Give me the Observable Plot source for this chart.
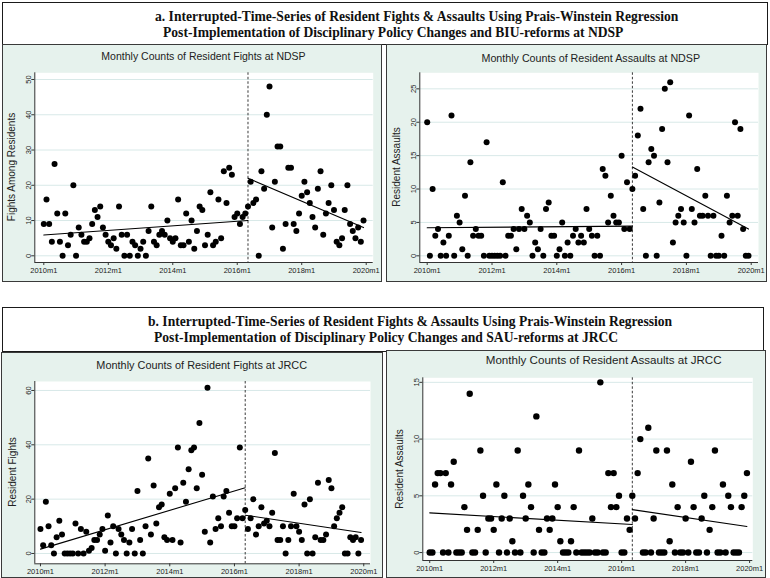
<!DOCTYPE html>
<html><head><meta charset="utf-8">
<script src="https://cdn.jsdelivr.net/npm/d3@7"></script>
<script src="https://cdn.jsdelivr.net/npm/@observablehq/plot@0.6"></script>
<style>
body{margin:0;background:#fff;width:770px;height:578px;position:relative;overflow:hidden;font-family:"Liberation Sans",Arial,sans-serif}
.box{position:absolute;border:1px solid #1a1a1a;background:#fff;box-sizing:border-box}
.tl{position:absolute;font-family:"Liberation Serif","Times New Roman",serif;font-weight:bold;font-size:13.6px;white-space:nowrap;line-height:1;color:#111;transform:translateY(-50%)}
.panel{position:absolute;background:#e6f2ed;border:1px solid #3a3a3a;box-sizing:border-box}
.pt{position:absolute;white-space:nowrap;transform:translate(-50%,-50%);color:#222;line-height:1}
.yt{position:absolute;white-space:nowrap;transform:translate(-50%,-50%) rotate(-90deg);color:#222;line-height:1;font-size:10px}
.plot{position:absolute}
.plot svg{overflow:visible}
</style></head><body>
<script>
// ---------- data ----------
const monthIndex = d3.range(120);               // 2010m1 ... 2019m12
const xTickMonths = [0, 24, 48, 72, 96, 120];
const xTickLabels = ["2010m1", "2012m1", "2014m1", "2016m1", "2018m1", "2020m1"];
const interventionMonth = 76;                   // 2016m5
const preFitMonths = [0, 76];
const postFitMonths = [76, 119];

const ndspFights = [9,16,9,4,26,12,4,0,12,3, 6,20,0,8,6,4,4,5,9,13, 11,14,8,6,4,3,5,2,14,6,
  0,6,0,4,3,0,2,4,0,7, 14,4,3,6,7,6,10,5,4,5, 16,3,3,12,4,10,2,7,14,13, 3,6,18,3,4,16,5,24,15,25,
  23,11,12,9,11,12,14,21,15,16, 0,24,19,40,48,8,21,31,31,2, 9,25,25,9,7,12,17,21,18,15,
  11,8,19,24,6,12,15,20,13,4, 3,5,13,20,9,7,5,8,4,10];
const ndspFightsPreFit = [5.9, 10.0];
const ndspFightsPostFit = [22.0, 8.0];

const ndspAssaults = [20,0,10,3,4,0,2,0,3,21, 0,6,5,1,9,0,14,3,4,3, 3,0,17,0,0,0,0,0,11,0,
  3,3,4,1,4,7,4,6,5,0, 2,1,4,0,7,8,3,3,0,1, 5,0,2,0,3,4,2,3,2,7, 4,3,0,3,0,13,12,5,9,6,
  5,5,15,4,11,4,10,12,18,22, 7,0,14,16,15,0,8,19,25,14, 26,2,5,6,7,5,0,21,7,5,
  13,6,6,9,6,0,6,0,0,3, 0,9,5,6,20,6,19,4,0,0];
const ndspAssaultsPreFit = [4.2, 4.45];
const ndspAssaultsPostFit = [13.3, 4.0];

const jrccFights = [9,3,19,10,3,0,6,12,7,0, 0,0,0,11,0,9,0,8,1,2, 5,5,7,9,1,14,4,10,0,9,
  7,5,0,4,9,0,23,5,0,10, 35,7,25,11,17,18,6,5,22,5, 24,39,4,26,19,31,38,39,24,48, 29,8,61,4,21,9,13,10,21,23,
  15,10,10,13,39,13,16,9,13,20, 7,10,17,11,12,10,15,37,5,5, 10,0,5,10,22,10,8,5,18,0,
  20,0,6,26,5,5,7,27,24,10, 13,15,17,0,0,6,5,6,0,5];
const jrccFightsPreFit = [1.6, 24.2];
const jrccFightsPostFit = [14.1, 7.7];

const jrccAssaults = [0,0,6,7,7,0,7,0,6,8, 0,0,0,4,2,14,0,0,2,9, 5,0,3,3,2,6,0,3,5,0,
  3,1,0,9,0,5,3,6,4,0, 12,2,0,0,3,2,3,6,4,1, 0,0,0,1,4,0,9,0,0,0, 0,3,0,0,15,0,0,7,4,7,
  4,5,0,0,3,2,5,3,7,10, 0,0,11,0,3,9,0,0,0,9, 1,6,0,4,0,0,3,0,8,4,
  0,0,3,5,0,2,4,9,0,0, 6,0,5,4,0,0,0,4,5,7];
const jrccAssaultsPreFit = [3.5, 2.47];
const jrccAssaultsPostFit = [3.78, 2.3];

const yTicksNdspFights = [0, 10, 20, 30, 40, 50];
const yTicksNdspAssaults = [0, 5, 10, 15, 20, 25];
const yTicksJrccFights = [0, 20, 40, 60];
const yTicksJrccAssaults = [0, 5, 10, 15];

const titleA = ["a. Interrupted-Time-Series of Resident Fights & Assaults Using Prais-Winstein Regression",
  "Post-Implementation of Disciplinary Policy Changes and BIU-reforms at NDSP"];
const titleB = ["b. Interrupted-Time-Series of Resident Fights & Assaults Using Prais-Winstein Regression",
  "Post-Implementation of Disciplinary Policy Changes and SAU-reforms at JRCC"];

// ---------- layout ----------
const panels = [
  {title: "Monthly Counts of Resident Fights at NDSP", ytitle: "Fights Among Residents",
   values: ndspFights, pre: ndspFightsPreFit, post: ndspFightsPostFit, yTicks: yTicksNdspFights,
   box: [2, 44, 380, 238], m: [28.3, 9.3, 20, 32.3], xd: [-3.35, 122.6], yd: [-1.9, 51.9],
   tpos: [203.5, 55.5, 10.5], ypos: [11.7, 167], r: 3},
  {title: "Monthly Counts of Resident Assaults at NDSP", ytitle: "Resident Assaults",
   values: ndspAssaults, pre: ndspAssaultsPreFit, post: ndspAssaultsPostFit, yTicks: yTicksNdspAssaults,
   box: [386, 44, 381, 238], m: [28.3, 9, 20, 33.3], xd: [-2.74, 122.7], yd: [-1.0, 27.4],
   tpos: [590.8, 57.5, 10.7], ypos: [396.7, 167], r: 3},
  {title: "Monthly Counts of Resident Fights at JRCC", ytitle: "Resident Fights",
   values: jrccFights, pre: jrccFightsPreFit, post: jrccFightsPostFit, yTicks: yTicksJrccFights,
   box: [1, 352, 382, 226], m: [29, 13, 14.7, 33.3], xd: [-2.1, 122.5], yd: [-3.8, 63.3],
   tpos: [201.7, 365, 10.9], ypos: [12.7, 472], r: 3},
  {title: "Monthly Counts of Resident Assaults at JRCC", ytitle: "Resident Assaults",
   values: jrccAssaults, pre: jrccAssaultsPreFit, post: jrccAssaultsPostFit, yTicks: yTicksJrccAssaults,
   box: [386, 350, 380, 228], m: [27.3, 13.7, 18, 36.3], xd: [-2.6, 121.2], yd: [-0.7, 15.4],
   tpos: [603.7, 360, 11.6], ypos: [400, 469], r: 3.2}
];

function el(tag, cls, style, text) {
  const e = document.createElement(tag);
  if (cls) e.className = cls;
  Object.assign(e.style, style);
  if (text != null) e.textContent = text;
  document.body.appendChild(e);
  return e;
}

// title boxes
el("div", "box", {left: "2px", top: "2px", width: "766px", height: "43px"});
el("div", "tl", {left: "155px", top: "17px"}, titleA[0]);
el("div", "tl", {left: "163px", top: "33px"}, titleA[1]);
el("div", "box", {left: "2px", top: "307px", width: "762px", height: "45px"});
el("div", "tl", {left: "148px", top: "322px"}, titleB[0]);
el("div", "tl", {left: "154px", top: "337.5px"}, titleB[1]);

const fmtX = d => xTickLabels[xTickMonths.indexOf(d)];

for (const p of panels) {
  const [bx, by, bw, bh] = p.box;
  el("div", "panel", {left: bx + "px", top: by + "px", width: bw + "px", height: bh + "px"});
  const [mt, mr, mb, ml] = p.m;
  const pts = p.values.map((v, i) => ({m: monthIndex[i], v}));
  const fit = [
    {m: preFitMonths[0], v: p.pre[0], g: "pre"}, {m: preFitMonths[1], v: p.pre[1], g: "pre"},
    {m: postFitMonths[0], v: p.post[0], g: "post"}, {m: postFitMonths[1], v: p.post[1], g: "post"}
  ];
  const chart = Plot.plot({
    width: bw, height: bh,
    marginTop: mt, marginRight: mr, marginBottom: mb, marginLeft: ml,
    style: {background: "transparent", fontFamily: "'Liberation Sans', Arial, sans-serif", fontSize: "7.5px", color: "#222"},
    x: {domain: p.xd},
    y: {domain: p.yd},
    marks: [
      Plot.frame({fill: "white", stroke: null}),
      Plot.gridY(p.yTicks, {stroke: "#d8e9e8", strokeOpacity: 1, strokeWidth: 1}),
      Plot.ruleX([interventionMonth], {stroke: "#3a3a3a", strokeDasharray: "2.5,2", strokeWidth: 1}),
      Plot.dot(pts, {x: "m", y: "v", r: p.r, fill: "black", stroke: null}),
      Plot.line(fit, {x: "m", y: "v", z: "g", stroke: "black", strokeWidth: 1.1}),
      Plot.ruleX([p.xd[0]], {stroke: "#333", strokeWidth: 1}),
      Plot.ruleY([p.yd[0]], {stroke: "#333", strokeWidth: 1}),
      Plot.axisX({ticks: xTickMonths, tickFormat: fmtX, tickSize: 3, tickPadding: 2, label: null, stroke: "#333"}),
      Plot.axisY({ticks: p.yTicks, tickRotate: -90, tickSize: 3, tickPadding: 1, label: null, stroke: "#333"})
    ]
  });
  const holder = el("div", "plot", {left: bx + "px", top: by + "px", width: bw + "px", height: bh + "px"});
  holder.appendChild(chart);
  el("div", "pt", {left: p.tpos[0] + "px", top: p.tpos[1] + "px", fontSize: p.tpos[2] + "px"}, p.title);
  el("div", "yt", {left: p.ypos[0] + "px", top: p.ypos[1] + "px"}, p.ytitle);
}
</script>
</body></html>
